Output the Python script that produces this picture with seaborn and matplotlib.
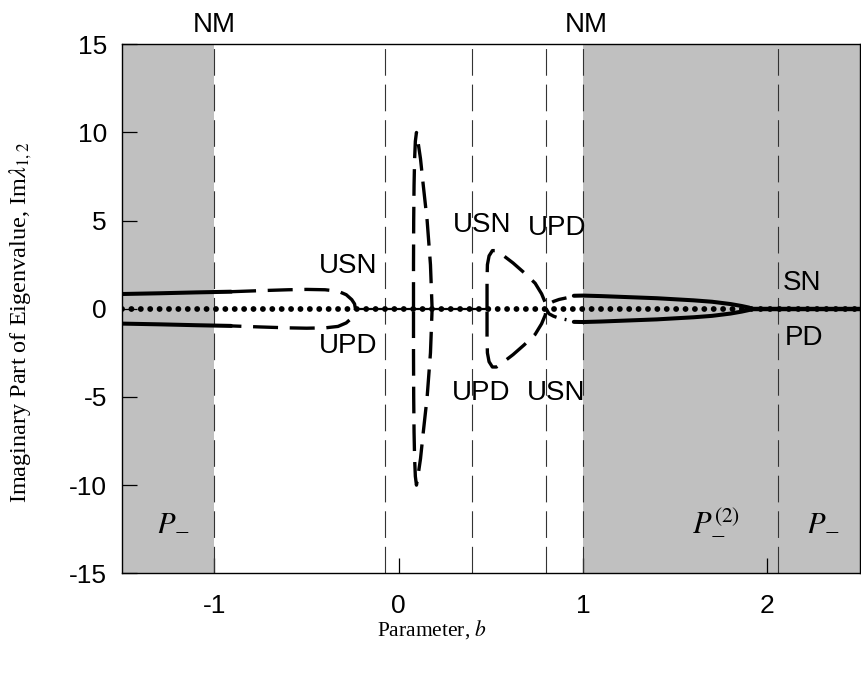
import numpy as np
import pandas as pd
import matplotlib
matplotlib.use("Agg")
import matplotlib.pyplot as plt
import seaborn as sns

# ---- data -------------------------------------------------------------
# Left branch: complex pair, stable part (solid) then unstable part (dashed)
left_solid_b = [-1.5, -1.3, -1.1, -0.91]
left_solid_im = [0.84, 0.88, 0.93, 0.97]
left_dash_b = [-0.91, -0.75, -0.6, -0.5, -0.4, -0.33, -0.285, -0.255, -0.24, -0.235]
left_dash_im = [0.97, 1.03, 1.08, 1.1, 1.08, 1.0, 0.8, 0.52, 0.28, 0.0]

# Tall narrow loop near b = 0.1 (upper half, left edge -> top -> right edge)
tall_b = [0.080, 0.080, 0.081, 0.083, 0.086, 0.090, 0.096, 0.104, 0.118, 0.133, 0.154, 0.172, 0.181]
tall_im = [0.0, 2.5, 5.0, 7.0, 8.5, 9.5, 10.0, 9.5, 8.5, 7.0, 5.0, 2.5, 0.0]

# D-shaped loop between b = 0.48 and b = 0.80 (upper half)
d_b = [0.479, 0.479, 0.481, 0.490, 0.508, 0.530, 0.570, 0.620, 0.680, 0.740, 0.775, 0.795, 0.800]
d_im = [0.0, 1.6, 2.5, 3.0, 3.3, 3.3, 3.0, 2.6, 2.05, 1.45, 0.85, 0.35, 0.0]

# Right branch: short unstable arc, then the stable loop closing near b = 1.92
right_dash_b = [0.80, 0.815, 0.84, 0.87, 0.91]
right_dash_im = [0.0, 0.28, 0.42, 0.53, 0.62]
right_solid_b = [0.95, 1.0, 1.1, 1.2, 1.4, 1.6, 1.7, 1.8, 1.86, 1.9, 1.915]
right_solid_im = [0.74, 0.75, 0.72, 0.68, 0.60, 0.48, 0.40, 0.27, 0.16, 0.07, 0.0]

# Real-eigenvalue segments lying on Im = 0
zero_thin_b = [-0.235, 0.479]
zero_thick_b = [1.915, 2.5]
zero_full_b = [-1.5, 2.5]

# Bifurcation boundaries and shaded (P_-) regions
boundaries = [-1.0, -0.076, 0.40, 0.80, 1.0, 2.056]
shaded = [(-1.5, -1.0), (1.0, 2.5)]

x_ticks = [-1, 0, 1, 2]
y_ticks = [-15, -10, -5, 0, 5, 10, 15]


def closed(b, im):
    """Upper half followed by its mirror image, as one continuous path."""
    b = list(b)
    im = list(im)
    return pd.DataFrame({"b": b + b[::-1], "im": im + [-v for v in im[::-1]]})


def mirrored(b, im):
    """Upper arc reversed, then the lower arc, joined at the tip."""
    b = list(b)
    im = list(im)
    return pd.DataFrame({"b": b[::-1] + b, "im": im[::-1] + [-v for v in im]})


sns.set_theme(style="ticks")
plt.rcParams["font.family"] = ["Liberation Sans", "DejaVu Sans"]
plt.rcParams["mathtext.fontset"] = "stix"

fig = plt.figure(figsize=(8.62, 6.73), dpi=100)
ax = fig.add_axes([0.1419, 0.1481, 0.8552, 0.7861])

for lo, hi in shaded:
    ax.axvspan(lo, hi, color="#c0c0c0", lw=0, zorder=0)
for xb in boundaries:
    ax.axvline(xb, color="#333333", lw=0.8, linestyle=(0, (24, 8)), zorder=1)

dash = (0, (7.5, 3.5))
common = dict(ax=ax, x="b", y="im", sort=False, estimator=None, color="black", legend=False)

# dotted zero line
sns.lineplot(data=pd.DataFrame({"b": zero_full_b, "im": [0, 0]}), lw=4.2,
             linestyle=(0, (0.01, 1.6)), dash_capstyle="round", zorder=4, **common)
sns.lineplot(data=pd.DataFrame({"b": zero_thin_b, "im": [0, 0]}), lw=1.6, zorder=3, **common)
sns.lineplot(data=pd.DataFrame({"b": zero_thick_b, "im": [0, 0]}), lw=3.2, zorder=3, **common)

# solid (stable) branches
for sgn in (1, -1):
    sns.lineplot(data=pd.DataFrame({"b": left_solid_b, "im": [sgn * v for v in left_solid_im]}),
                 lw=2.9, zorder=3, **common)
sns.lineplot(data=closed(right_solid_b, right_solid_im), lw=2.9, zorder=3, **common)

# dashed (unstable) branches
sns.lineplot(data=closed(left_dash_b, left_dash_im), lw=2.4, linestyle=dash, zorder=3, **common)
sns.lineplot(data=closed(tall_b, tall_im), lw=2.4, linestyle=(0, (8, 3.3)), zorder=3, **common)
sns.lineplot(data=closed(d_b, d_im), lw=2.4, linestyle=dash, zorder=3, **common)
sns.lineplot(data=mirrored(right_dash_b, right_dash_im), lw=2.4, linestyle=(0, (4.5, 2.5)),
             zorder=3, **common)

ax.set_xlim(-1.5, 2.5)
ax.set_ylim(-15, 15)
ax.set_xticks(x_ticks)
ax.set_xticklabels([str(v) for v in x_ticks])
ax.set_yticks(y_ticks)
ax.set_yticklabels([str(v) for v in y_ticks])
ax.tick_params(direction="in", length=11, width=0.9, labelsize=19, color="black",
               labelcolor="black")
ax.tick_params(axis="x", pad=15)
ax.tick_params(axis="y", pad=11)
for sp in ax.spines.values():
    sp.set_visible(True)
    sp.set_color("black")
    sp.set_linewidth(1.0)
ax.grid(False)

# axis titles
ax.set_xlabel("Parameter, $b$", family="Liberation Serif", fontsize=15.5, color="black")
ax.set_ylabel(r"Imaginary Part of Eigenvalue, Im$\lambda_{1,2}$", family="Liberation Serif",
              fontsize=17.5, color="black")
ax.xaxis.set_label_coords(0.42, -0.085)
ax.yaxis.set_label_coords(-0.12, 0.474)

# bifurcation annotations
tk = dict(fontsize=20, color="black", ha="center", va="center")
ax.text(-1.0, 16.1, "NM", clip_on=False, **tk)
ax.text(1.02, 16.1, "NM", clip_on=False, **tk)
ax.text(-0.275, 2.45, "USN", **tk)
ax.text(-0.275, -2.1, "UPD", **tk)
ax.text(0.452, 4.75, "USN", **tk)
ax.text(0.86, 4.6, "UPD", **tk)
ax.text(0.449, -4.8, "UPD", **tk)
ax.text(0.855, -4.8, "USN", **tk)
ax.text(2.19, 1.46, "SN", **tk)
ax.text(2.2, -1.63, "PD", **tk)

pk = dict(fontsize=22, color="black", ha="center", va="center")
ax.text(-1.225, -12.1, r"$P_{-}$", **pk)
ax.text(1.72, -12.1, r"$P_{-}^{(2)}$", **pk)
ax.text(2.3, -12.1, r"$P_{-}$", **pk)

fig.savefig("out.png", dpi=100)
